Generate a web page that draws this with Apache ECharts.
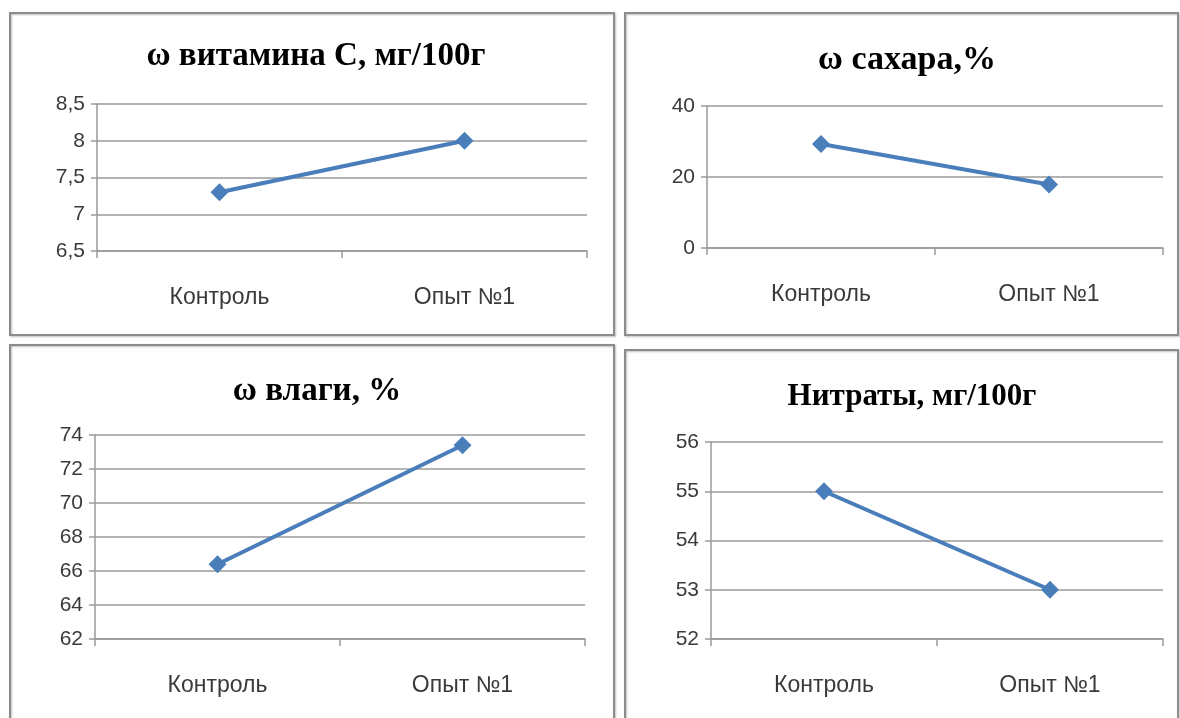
<!DOCTYPE html>
<html>
<head>
<meta charset="utf-8">
<script src="https://cdn.jsdelivr.net/npm/echarts@6/dist/echarts.min.js"></script>
<style>
  html, body { margin: 0; padding: 0; background: #ffffff; }
  #chart { width: 1180px; height: 718px; }
</style>
</head>
<body>
<div id="chart"></div>
<script>
// Categories shared by all four panels
const categories = ['Контроль', 'Опыт №1'];

// Panel titles
const titles = ['ω витамина С, мг/100г', 'ω сахара,%', 'ω влаги, %', 'Нитраты, мг/100г'];

// Measured values per indicator
const vitaminC = [7.3, 8.0];
const sugar = [29.3, 17.9];
const moisture = [66.4, 73.4];
const nitrates = [55, 53];

// Value axis ranges: [min, max, interval]
const vitaminCAxis = [6.5, 8.5, 0.5];
const sugarAxis = [0, 40, 20];
const moistureAxis = [62, 74, 2];
const nitratesAxis = [52, 56, 1];

const seriesData = [vitaminC, sugar, moisture, nitrates];
const axisRanges = [vitaminCAxis, sugarAxis, moistureAxis, nitratesAxis];

// Panel frames and plot areas (pixels)
const frames = [
  { x: 10, y: 13, w: 604, h: 322 },
  { x: 625, y: 13, w: 553, h: 322 },
  { x: 10, y: 345, w: 604, h: 390 },
  { x: 625, y: 350, w: 553, h: 385 }
];
const grids = [
  { left: 97, top: 104, width: 490, height: 147 },
  { left: 707, top: 106, width: 456, height: 142 },
  { left: 95, top: 435, width: 490, height: 204 },
  { left: 711, top: 442, width: 452, height: 197 }
];
const titlePos = [
  { x: 311, y: 35 },
  { x: 902, y: 38 },
  { x: 312, y: 370 },
  { x: 907, y: 376 }
];
const titleSizes = [33, 34, 33, 31];

const blue = '#4a7ebb';
const gridGray = '#9a9a9a';
const labelFont = '"Liberation Sans", Arial, sans-serif';
const titleFont = '"Liberation Serif", "Times New Roman", serif';

const option = {
  animation: false,
  backgroundColor: '#ffffff',
  title: titles.map((t, i) => ({
    text: t,
    left: titlePos[i].x,
    top: titlePos[i].y,
    textAlign: 'center',
    textStyle: { fontFamily: titleFont, fontWeight: 'bold', fontSize: titleSizes[i], color: '#000000' }
  })),
  graphic: frames.map(f => ({
    type: 'rect',
    shape: { x: f.x, y: f.y, width: f.w, height: f.h },
    style: { fill: 'none', stroke: '#8c8c8c', lineWidth: 2, shadowColor: 'rgba(0,0,0,0.25)', shadowBlur: 2, shadowOffsetX: 1, shadowOffsetY: 1 },
    z: 10
  })),
  grid: grids.map(g => Object.assign({ containLabel: false }, g)),
  xAxis: grids.map((g, i) => ({
    type: 'category',
    gridIndex: i,
    data: categories,
    boundaryGap: true,
    axisLine: { lineStyle: { color: gridGray, width: 1.5 } },
    axisTick: { show: true, alignWithLabel: false, length: 7, lineStyle: { color: gridGray, width: 1.5 } },
    axisLabel: { margin: 35, fontFamily: labelFont, fontSize: 23, color: '#3a3a3a' },
    splitLine: { show: false }
  })),
  yAxis: axisRanges.map((r, i) => ({
    type: 'value',
    gridIndex: i,
    min: r[0],
    max: r[1],
    interval: r[2],
    axisLine: { show: true, lineStyle: { color: gridGray, width: 1.5 } },
    axisTick: { show: true, length: 6, lineStyle: { color: gridGray, width: 1.5 } },
    axisLabel: {
      margin: 12,
      fontFamily: labelFont,
      fontSize: 21,
      color: '#3a3a3a',
      formatter: v => String(v).replace('.', ',')
    },
    splitLine: { show: true, lineStyle: { color: gridGray, width: 1.5 } }
  })),
  series: seriesData.map((d, i) => ({
    type: 'line',
    xAxisIndex: i,
    yAxisIndex: i,
    data: d,
    symbol: 'diamond',
    symbolSize: 18,
    showAllSymbol: true,
    lineStyle: { color: blue, width: 4 },
    itemStyle: { color: blue },
    z: 5
  }))
};

const chart = echarts.init(document.getElementById('chart'), null, { renderer: 'canvas' });
chart.setOption(option);
</script>
</body>
</html>
